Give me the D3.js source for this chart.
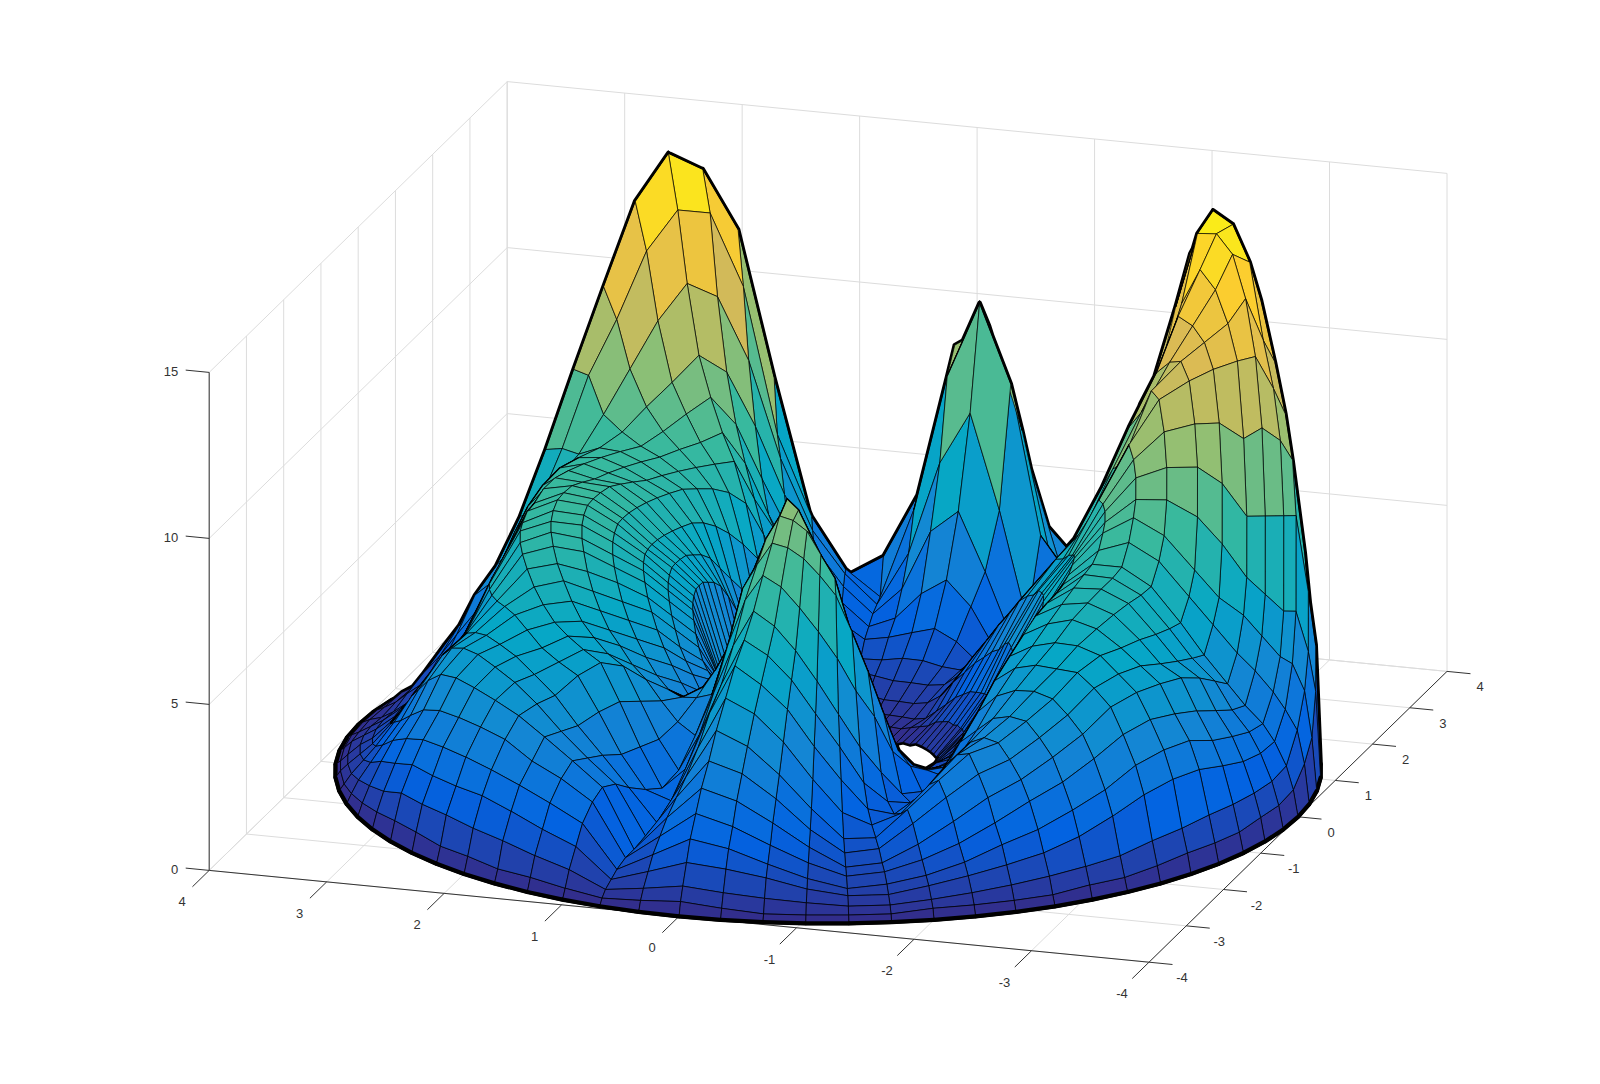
<!DOCTYPE html>
<html>
<head>
<meta charset="utf-8">
<style>
  html, body { margin: 0; background: #fff; }
  text { font-family: "Liberation Sans", Arial, sans-serif; font-size: 13px; fill: #333; }
</style>
<script src="https://cdnjs.cloudflare.com/ajax/libs/d3/7.8.5/d3.min.js"></script>
</head>
<body>
<svg width="1600" height="1084"></svg>
<script>
const xTicks = [4, 3, 2, 1, 0, -1, -2, -3, -4];
const yTicks = [-4, -3, -2, -1, 0, 1, 2, 3, 4];
const zTicks = [0, 5, 10, 15];

// ring radii, and one height every 5 degrees on each ring (each line is 60 degrees)
const radii = [0.9, 1.1, 1.3, 1.5, 1.75, 2, 2.25, 2.5, 2.75, 3, 3.2, 3.4, 3.55, 3.7, 3.8, 3.9, 3.96, 4];
const angles = d3.range(0, 360, 5);

const ring090 = [
  3,3,3,2.9,2.7,2.4,2,1.7,1.4,1.2,.9,.7,
  .5,.3,.2,.1,.1,0,0,0,0,0,0,.1,
  .1,.2,.2,.2,.2,.2,.2,.3,.4,.4,.5,.5,
  .5,.5,.5,.5,.5,.6,.7,.9,1.2,1.6,2.2,3,
  4,4.8,5.5,6.2,7,7.8,7.9,6.5,5,4.5,3.6,3,
  2.5,2.6,2.7,2.8,2.8,2.9,2.9,3,3,3,3,3];
const ring110 = [
  5.2,5.2,5.1,5,4.8,4.4,3.9,3.4,2.9,2.5,2.2,1.7,
  1.3,.9,.6,.4,.3,.2,.2,.2,.2,.2,.3,.4,
  .5,.7,.8,.9,.9,1,1,1.1,1.1,1.2,1.2,1.2,
  1.2,1.1,1,1,1,.9,.8,1,1.3,1.7,2.4,3.4,
  4.6,5.8,7,7.7,8.4,9.1,9.4,8.2,7,6,4.9,3.8,
  2.9,3.1,3.4,3.6,3.8,4.1,4.4,4.7,4.9,5,5.1,5.2];
const ring130 = [
  5.8,5.8,5.8,5.7,5.6,5.4,5,4.6,4.2,3.8,3.2,2.5,
  2,1.4,.8,.6,.5,.4,.3,.3,.3,.3,.4,.7,
  1,1.3,1.5,1.7,1.8,1.9,2,2.1,2.2,2.2,2.2,2.2,
  2.2,1.9,1.6,1.4,1.3,1.2,1.2,1.2,1.3,1.6,2.3,3.5,
  4.7,5.9,7.3,8,8.7,9,9.1,8.4,7.4,5.8,4.8,3.8,
  3,3.3,3.7,4,4.3,4.7,5,5.3,5.5,5.6,5.7,5.8];
const ring150 = [
  6.3,6.3,6.3,6.3,6.3,6.3,6.2,6,5.7,5.3,4.8,3.8,
  2.8,1.9,1,.8,.7,.6,.5,.5,.5,.6,.9,1.4,
  1.8,2.2,2.5,2.8,3,3.3,3.5,3.5,3.5,3.5,3.5,3.5,
  3.5,3.3,3,2.7,2.4,2,1.6,1.5,1.5,1.7,2.2,3.4,
  4.7,5.9,7,7.6,8.1,8.4,8.5,7.8,7,5.2,4.4,3.8,
  3.3,3.7,4.1,4.5,4.9,5.3,5.6,5.9,6.1,6.2,6.3,6.3];
const ring175 = [
  7,7,7,7,7,7,7,6.9,6.8,6.6,6.2,5.2,
  4,2.6,1.5,1.2,1,.9,.8,.8,.8,.9,1.3,2,
  2.6,3.2,3.7,4.2,4.5,4.7,5,5.1,5.2,5.2,5,5,
  5,4.9,4.7,4.5,3.8,3,2.6,1.9,1.8,1.8,2,2.5,
  3.6,4.4,5.4,6.2,6.9,7.5,7.8,7,5.6,4,3.8,3.7,
  3.8,4.1,4.5,4.9,5.3,5.7,6.1,6.4,6.6,6.8,6.9,7];
const ring200 = [
  7.5,7.5,7.5,7.4,7.3,7.2,7.2,7.2,7.2,7.2,7.2,6,
  5,3.2,2,1.4,1.1,1.1,1.2,1.2,1.1,1.1,1.6,2.4,
  3.1,3.8,4.4,5,5.5,5.7,6,6.2,6.4,6.5,6.5,6.4,
  6.3,6.2,6.1,5.9,5.5,5,4.4,3.6,2.8,1.9,1.5,1.5,
  2.2,3,4,5,5.9,6.6,7,5.9,4.4,3,3.3,3.8,
  4.3,4.6,5,5.3,5.7,6.1,6.5,6.9,7.1,7.3,7.4,7.5];
const ring225 = [
  7.6,7.6,7.5,7.4,7.4,7.4,7.4,7.4,7.5,7.6,7.8,6.8,
  5.2,3.8,2.6,1.9,1.4,1.5,1.7,1.9,1.6,1.1,1.7,2.7,
  3.5,4.2,4.9,5.8,6.3,7,7.6,7.7,7.7,7.6,7.5,7.2,
  7,6.9,6.7,6.4,6,5.5,5,4.3,3.4,2.6,2,1.5,
  1.6,2.2,3.3,4.3,5.3,6,6.4,5,3.4,2.2,3,4,
  4.9,5.1,5.4,5.7,6.1,6.5,6.8,7.1,7.3,7.4,7.5,7.6];
const ring250 = [
  7.2,7.4,7.5,7.5,7.5,7.5,7.5,7.5,7.8,8.2,8.6,7.7,
  6,4.4,3,2.2,1.5,1.8,2.6,3.1,2.4,1.3,2,3,
  4,4.8,5.8,7.2,8,8.4,9.2,9,8.7,8.3,8,7.5,
  7,6.9,6.8,6.6,6.3,5.8,5.3,4.7,4,3.4,2.8,2,
  1.5,1.7,2.6,3.6,4.7,5.4,5.9,4.4,2.6,1.9,3,4.2,
  5.2,5.4,5.6,5.8,6.1,6.4,6.7,6.9,7,7.1,7.1,7.2];
const ring275 = [
  5.5,6,6.5,6.9,7.2,7.3,7.4,7.7,8.3,8.9,9.6,9,
  7.3,5.2,3.6,2.4,1.6,2.4,4.2,4.9,3.2,1.4,2.3,3.6,
  4.8,6.2,7.1,8.9,9.6,10.5,10.5,9.8,9,8.3,7.5,7,
  6.5,6.5,6.5,6.4,6.2,5.9,5.4,4.9,4.3,3.8,3.4,2.6,
  1.8,1.5,1.9,2.9,4,4.8,5.2,3.6,1.9,2.1,3,4.1,
  5,5.2,5.4,5.7,5.9,5.9,5.8,5.7,5.6,5.5,5.4,5.4];
const ring300 = [
  3.5,4,4.5,5,5.7,6.4,7,8,9.2,10.5,11.5,11,
  9,6,3.8,2.5,1.6,3.2,6,7.6,4.8,1.6,2.5,4.4,
  6,7.2,9.2,10.4,11,11.3,11,10,9,7.8,6.5,6,
  5.5,5.6,5.7,5.8,5.8,5.8,5.5,4.9,4.4,3.9,3.7,3,
  2.2,1.4,1.4,2.3,3.3,4.1,4.5,3,1.5,2.4,3.2,3.9,
  4.6,5,5.3,5.4,5.4,5.2,4.9,4.4,3.9,3.5,3.5,3.5];
const ring320 = [
  2.4,2.7,3.2,3.8,4.6,5.5,7,9,10.5,12.4,13.5,13.3,
  11,6.5,4,2.4,1.6,4.3,8.4,10.7,8.4,4,3,5.3,
  6.6,8.8,10.1,12,12,11.8,11.3,10,8.5,7,5.7,5.2,
  4.6,4.8,5,5.2,5.4,5.4,5.2,4.6,4.1,3.6,3.3,2.7,
  2,1.3,1.2,1.9,2.8,3.5,3.8,2.6,1.3,2.7,3.3,3.9,
  4.5,4.9,5.1,5.2,5.1,4.8,4.3,3.7,3.1,2.8,2.6,2.5];
const ring340 = [
  1.4,1.7,2.3,3.2,3.8,5,6.8,9,11.3,13.7,15,14.4,
  12.5,8,3.8,2,2.6,4.6,9.1,9.8,6.8,2.7,3.2,5.8,
  8.1,9.7,12,13.3,13,12.3,11.5,9.5,7.5,6,5.2,4.4,
  3.8,4.2,4.6,4.9,5,5,4.8,4.2,3.7,3.2,2.8,2.2,
  1.6,1.1,1,1.6,2.3,2.9,3.2,2.2,1.1,2.8,3.4,3.9,
  4.3,4.5,4.6,4.6,4.4,3.9,3.3,2.8,2.3,1.9,1.6,1.5];
const ring355 = [
  .9,1.1,1.6,2.2,2.7,3.6,5,7,9.5,12,14,13.4,
  11,6.5,3,1.8,2.2,4,7.5,8.2,5.5,2.4,4,6.5,
  8.8,11.5,14,14.3,14,13,11.6,9.8,7.5,5.5,4.6,3.9,
  3.2,3.4,3.7,4,4.2,4.3,4.1,3.6,3.1,2.7,2.2,1.7,
  1.3,1,.9,1.3,1.8,2.3,2.6,1.8,1,2.5,3,3.3,
  3.7,3.8,3.8,3.7,3.4,2.9,2.4,2,1.6,1.3,1.1,1];
const ring370 = [
  .5,.7,1,1.5,2,2.6,3.6,5,7,9,11,10.5,
  8,4.5,2,1.5,1.8,3,5.2,5.8,3.9,2.9,5,7.1,
  9.5,13,14.6,14.5,13.7,11.7,10.6,9.4,7.5,5,4,3.3,
  2.7,2.8,3,3.2,3.5,3.5,3.3,2.8,2.4,2,1.7,1.3,
  1,.8,.7,1,1.4,1.8,2,1.4,.8,2,2.4,2.7,
  2.9,3,3,2.9,2.6,2.2,1.7,1.3,1,.8,.7,.6];
const ring380 = [
  .3,.4,.5,.6,1,1.5,2,3.2,5,6.5,8,8,
  5.5,3,1.4,1.3,1.5,2.5,4,4.6,3,2,3.5,5.5,
  8,12,13.5,13.5,12.5,11,9.8,8.8,7.5,5,3.8,2.8,
  2.2,2.2,2.3,2.5,2.7,2.7,2.5,2.1,1.7,1.4,1.2,1,
  .8,.6,.6,.8,1.1,1.3,1.4,1,.6,1.4,1.7,2,
  2.2,2.2,2.2,2.2,1.9,1.6,1.2,.9,.7,.6,.5,.4];
const ring390 = [
  .2,.2,.3,.3,.5,.8,1,1.7,2.7,3.5,4,4,
  2.8,1.6,.8,.7,.8,1.3,2,2.2,1.6,1,1.8,3,
  5,7,8,8,7.8,7,6.5,6,5.2,3.8,3,2.2,
  1.5,1.4,1.4,1.4,1.4,1.3,1.2,1,.9,.8,.7,.6,
  .5,.4,.4,.5,.6,.7,.8,.6,.4,.8,1,1.2,
  1.3,1.4,1.4,1.4,1.1,.9,.7,.5,.4,.3,.3,.2];
const ring396 = [
  .1,.1,.1,.1,.2,.3,.4,.7,1,1.3,1.5,1.5,
  1,.6,.3,.3,.3,.5,.8,.9,.6,.4,.8,1.4,
  2.2,3,3.8,4,4,3.9,3.8,3.8,3.6,2.6,1.6,1.2,
  .8,.7,.7,.6,.6,.6,.5,.4,.4,.3,.3,.3,
  .3,.2,.2,.2,.2,.3,.4,.3,.2,.3,.4,.4,
  .5,.5,.6,.6,.5,.4,.3,.2,.2,.1,.1,.1];
const ring400 = [
  0,0,0,0,0,0,0,0,0,0,0,0,
  0,0,0,0,0,0,0,0,0,0,0,0,
  0,0,0,0,0,0,0,0,0,0,0,0,
  0,0,0,0,0,0,0,0,0,0,0,0,
  0,0,0,0,0,0,0,0,0,0,0,0,
  0,0,0,0,0,0,0,0,0,0,0,0];
const rings = [ring090, ring110, ring130, ring150, ring175, ring200, ring225, ring250, ring275,
  ring300, ring320, ring340, ring355, ring370, ring380, ring390, ring396, ring400];

const parula = ['#352a87', '#0363e1', '#1485d4', '#06a7c6', '#38b99e', '#92bf73', '#d9ba56', '#fcce2e', '#f9fb0e'];

const svg = d3.select('svg');

// fixed oblique view: each axis adds its own screen offset to the x=4, y=-4 floor corner
const corner = { x: 209.2, y: 870.4 };
const xToDx = d3.scaleLinear().domain([4, -4]).range([0, 939.8]);
const xToDy = d3.scaleLinear().domain([4, -4]).range([0, 91.8]);
const yToDx = d3.scaleLinear().domain([-4, 4]).range([0, 298]);
const yToDy = d3.scaleLinear().domain([-4, 4]).range([0, -290.8]);
const zToDy = d3.scaleLinear().domain([0, 15]).range([0, -498]);
const color = d3.scaleLinear()
  .domain(d3.range(parula.length).map(i => (i * 15) / (parula.length - 1)))
  .range(parula);

function project(x, y, z) {
  return [corner.x + xToDx(x) + yToDx(y), corner.y + xToDy(x) + yToDy(y) + zToDy(z)];
}

function seg(a, b) {
  return `M${a[0]},${a[1]}L${b[0]},${b[1]}`;
}

// walls and floor
const gridPath = [];
yTicks.forEach(y => {
  gridPath.push(seg(project(4, y, 0), project(-4, y, 0)));
  gridPath.push(seg(project(4, y, 0), project(4, y, 15)));
});
xTicks.forEach(x => {
  gridPath.push(seg(project(x, -4, 0), project(x, 4, 0)));
  gridPath.push(seg(project(x, 4, 0), project(x, 4, 15)));
});
zTicks.forEach(z => {
  gridPath.push(seg(project(4, -4, z), project(4, 4, z)));
  gridPath.push(seg(project(4, 4, z), project(-4, 4, z)));
});
svg.append('path')
  .attr('d', gridPath.join(''))
  .attr('fill', 'none')
  .attr('stroke', '#dcdcdc')
  .attr('stroke-width', 1);

// axis lines and ticks
const axisPath = [
  seg(project(4, -4, 0), project(-4, -4, 0)),
  seg(project(-4, -4, 0), project(-4, 4, 0)),
  seg(project(4, -4, 0), project(4, -4, 15)),
];
xTicks.forEach(x => axisPath.push(seg(project(x, -4, 0), project(x, -4.45, 0))));
yTicks.forEach(y => axisPath.push(seg(project(-4, y, 0), project(-4.2, y, 0))));
zTicks.forEach(z => axisPath.push(seg(project(4, -4, z), project(4.2, -4, z))));
svg.append('path')
  .attr('d', axisPath.join(''))
  .attr('fill', 'none')
  .attr('stroke', '#333')
  .attr('stroke-width', 1);

svg.append('g').selectAll('text').data(xTicks).join('text')
  .attr('x', d => project(d, -4, 0)[0] - 27)
  .attr('y', d => project(d, -4, 0)[1] + 36)
  .attr('text-anchor', 'middle')
  .text(d => d);
svg.append('g').selectAll('text').data(yTicks).join('text')
  .attr('x', d => project(-4, d, 0)[0] + 33)
  .attr('y', d => project(-4, d, 0)[1] + 20)
  .attr('text-anchor', 'middle')
  .text(d => d);
svg.append('g').selectAll('text').data(zTicks).join('text')
  .attr('x', d => project(4, -4, d)[0] - 31)
  .attr('y', d => project(4, -4, d)[1] + 4)
  .attr('text-anchor', 'end')
  .text(d => d);

// surface: cells painted far to near
const nodes = rings.map((row, i) => row.map((z, j) => {
  const t = (angles[j] * Math.PI) / 180;
  const x = radii[i] * Math.cos(t);
  const y = radii[i] * Math.sin(t);
  return { x, y, z, p: project(x, y, z) };
}));

function area(c) {
  return d3.polygonArea(c.map(n => n.p));
}

const cells = [];
for (let i = 0; i < rings.length - 1; i++) {
  for (let j = 0; j < angles.length; j++) {
    const k = (j + 1) % angles.length;
    const c = [nodes[i][j], nodes[i][k], nodes[i + 1][k], nodes[i + 1][j]];
    cells.push({
      i, j, c,
      facing: area(c) > 0,
      z: d3.mean(c, n => n.z),
      depth: d3.mean(c, n => 0.287 * n.x + 0.906 * n.y - 0.0875 * n.z),
    });
  }
}

function cellAt(i, j) {
  if (i < 0 || i >= rings.length - 1) return null;
  return cells[i * angles.length + ((j + angles.length) % angles.length)];
}

// edges where the sheet folds away from the viewer read as darker creases
function foldPath(cell) {
  const [a, b, c, d] = cell.c;
  const neighbours = [
    [cellAt(cell.i - 1, cell.j), a, b],
    [cellAt(cell.i + 1, cell.j), d, c],
    [cellAt(cell.i, cell.j - 1), a, d],
    [cellAt(cell.i, cell.j + 1), b, c],
  ];
  return neighbours
    .filter(([n]) => n && n.facing !== cell.facing)
    .map(([, p, q]) => seg(p.p, q.p))
    .join('');
}

const cellPath = cell => d3.line()(cell.c.map(n => n.p)) + 'Z';

// heavy outline round the whole sheet, painted first so only its outer edge shows
svg.append('path')
  .attr('d', cells.map(cellPath).join(''))
  .attr('fill', 'none')
  .attr('stroke', '#000')
  .attr('stroke-width', 4.5)
  .attr('stroke-linejoin', 'round');

const folds = new Map(cells.map(cell => [cell, foldPath(cell)]));
cells.sort((a, b) => b.depth - a.depth);

const surface = svg.append('g').attr('stroke-linejoin', 'round');
cells.forEach(cell => {
  surface.append('path')
    .attr('d', cellPath(cell))
    .attr('fill', color(cell.z))
    .attr('stroke', '#000')
    .attr('stroke-width', 0.7);
  const fold = folds.get(cell);
  if (fold) {
    surface.append('path')
      .attr('d', fold)
      .attr('fill', 'none')
      .attr('stroke', '#000')
      .attr('stroke-width', 1.2)
      .attr('stroke-linecap', 'round');
  }
  if (cell.i === rings.length - 2) {
    surface.append('path')
      .attr('d', seg(cell.c[3].p, cell.c[2].p))
      .attr('fill', 'none')
      .attr('stroke', '#000')
      .attr('stroke-width', 4)
      .attr('stroke-linecap', 'round');
  }
});
</script>
</body>
</html>
